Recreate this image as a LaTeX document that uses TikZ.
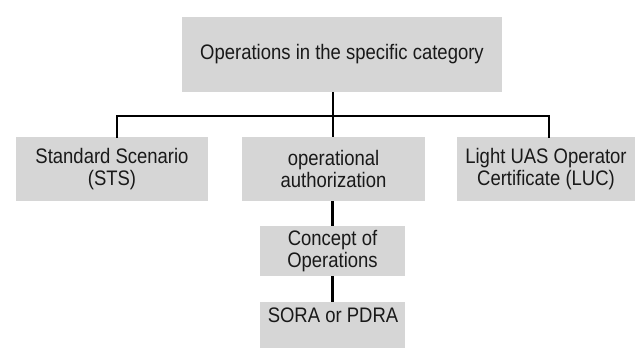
\documentclass[tikz,border=0pt]{standalone}
\usepackage{fontspec}
\setmainfont{Liberation Sans}[FakeStretch=0.88]
\definecolor{boxgray}{RGB}{214,214,214}
\definecolor{txt}{RGB}{25,25,25}
\begin{document}
\begin{tikzpicture}[x=1pt,y=-1pt,
  box/.style={fill=boxgray,draw=none,inner sep=0pt,text=txt,align=center,
    font=\fontsize{21}{21.7}\selectfont},
  conn/.style={line width=2.8pt,draw=black}]
\useasboundingbox (0,0) rectangle (635,348);
\fill[white] (0,0) rectangle (635,348);
\begin{scope}
\clip (0,0) rectangle (635,348);
\node[box,minimum width=320pt,minimum height=75pt] (top) at (342,54.5) {Operations in the specific category};
\node[box,minimum width=192pt,minimum height=64pt] (sts) at (112,169) {Standard Scenario\\(STS)};
\node[box,minimum width=183pt,minimum height=64pt] (oa) at (333.5,169) {operational\\authorization};
\node[box,minimum width=178pt,minimum height=64pt] (luc) at (546,169) {Light UAS Operator\\Certificate (LUC)};
\node[box,minimum width=145pt,minimum height=50pt] (conops) at (332.5,251) {Concept of\\Operations};
\fill[boxgray] (260,302) rectangle (405,350);
\node[box,fill=none,anchor=base] (sora) at (333,322) {SORA or PDRA};
\coordinate (sorabox) at (332.5,302);
\end{scope}
\coordinate (bar) at (333,116);
\coordinate (bl) at (117,116);
\coordinate (br) at (549,116);
\draw[conn] (top.south -| bar) -- (bar);
\draw[conn,line cap=rect] (bl |- sts.north) -- (bl) -- (br) -- (br |- luc.north);
\draw[conn] (bar) -- (bar |- oa.north);
\draw[conn] (oa.south -| conops.north) -- (conops.north);
\draw[conn] (conops.south) -- (sorabox);
\end{tikzpicture}
\end{document}
